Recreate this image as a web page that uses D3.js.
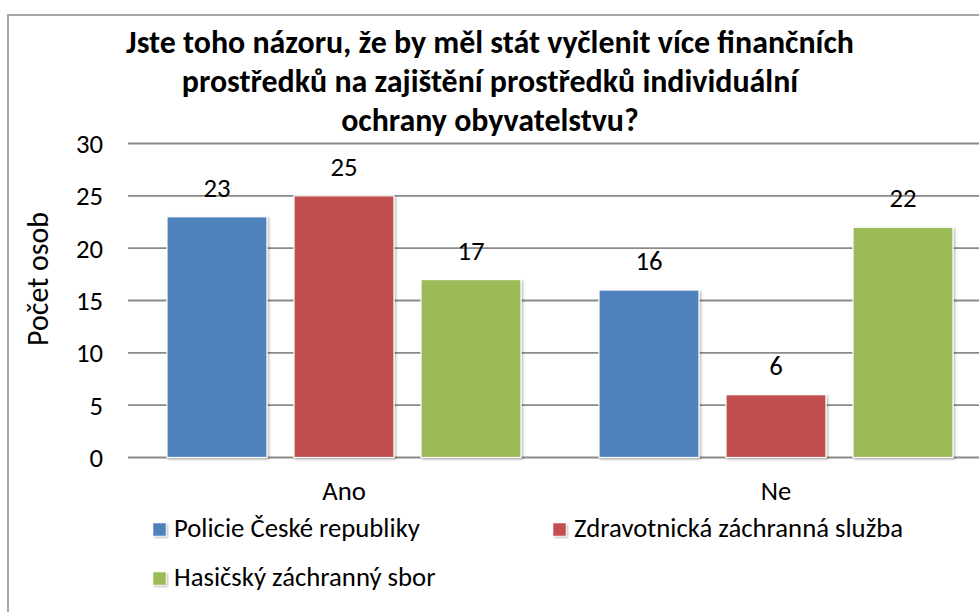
<!DOCTYPE html>
<html>
<head>
<meta charset="utf-8">
<script src="https://cdn.jsdelivr.net/npm/d3@7/dist/d3.min.js"></script>
<style>
html,body{margin:0;padding:0;background:#fff;}
svg{display:block;}
text{font-family:Carlito, Lato, "Open Sans", sans-serif;fill:#000;}
</style>
</head>
<body>
<svg id="chart" width="979" height="612"></svg>
<script>
const titleLines = ["Jste toho názoru, že by měl stát vyčlenit více finančních",
                    "prostředků na zajištění prostředků individuální",
                    "ochrany obyvatelstvu?"];
const categories = ["Ano", "Ne"];
const seriesNames = ["Policie České republiky", "Zdravotnická záchranná služba", "Hasičský záchranný sbor"];
const seriesColors = ["#4F81BD", "#C0504D", "#9BBB59"];
const policie = [23, 16];
const zachranna = [25, 6];
const hasici = [17, 22];
const yTicks = [0, 5, 10, 15, 20, 25, 30];
const yAxisTitle = "Počet osob";

const seriesValues = [policie, zachranna, hasici];
const svg = d3.select("#chart");

// shadow filter
const defs = svg.append("defs");
const f = defs.append("filter").attr("id","sh").attr("x","-10%").attr("y","-10%").attr("width","130%").attr("height","130%");
f.append("feDropShadow").attr("dx",1.5).attr("dy",1.5).attr("stdDeviation",1.2)
  .attr("flood-color","#000").attr("flood-opacity",0.28);

// chart border
svg.append("rect").attr("x",8).attr("y",15).attr("width",1100).attr("height",700)
  .attr("fill","#fff").attr("stroke","#a6a6a6").attr("stroke-width",2);

// measuring helper: size so that text reaches target width
function fitSize(str, target, weight){
  const t = svg.append("text").attr("font-size",100).attr("font-weight",weight||"normal").text(str);
  const w = t.node().getComputedTextLength();
  t.remove();
  return 100*target/w;
}
const bodySize = Math.min(28, fitSize("Policie České republiky", 246));
const titleSize = Math.min(34, fitSize(titleLines[0], 728, "bold"));

const y = d3.scaleLinear().domain([0,30]).range([457.5,143.5]);
const x0 = d3.scaleBand().domain(categories).range([128, 992]).padding(0);
const x1 = d3.scaleBand().domain(seriesNames).range([39, 393]).paddingInner(27/127).paddingOuter(0);

// gridlines
const grid = svg.append("g");
grid.selectAll("line").data(yTicks).join("line")
  .attr("x1",128).attr("x2",992)
  .attr("y1",d=>y(d)).attr("y2",d=>y(d))
  .attr("stroke","#8a8a8a").attr("stroke-width",1.8);

// y axis labels
const yAxis = d3.axisLeft(y).tickValues(yTicks).tickSize(0).tickPadding(0);
const gy = svg.append("g").attr("transform","translate(103,0)").call(yAxis);
gy.select(".domain").remove();
gy.selectAll("text").attr("font-size",bodySize).attr("fill","#000")
  .style("font-family","Carlito, Lato, 'Open Sans', sans-serif").attr("dy","0.34em");

// bars
const groups = svg.append("g").selectAll("g").data(categories).join("g")
  .attr("transform",c=>`translate(${x0(c)},0)`);
groups.each(function(c, ci){
  const g = d3.select(this);
  const data = seriesNames.map((s,si)=>({s, si, v: seriesValues[si][ci]}));
  g.selectAll("rect").data(data).join("rect")
    .attr("x",d=>x1(d.s)).attr("width",x1.bandwidth())
    .attr("y",d=>y(d.v)).attr("height",d=>y(0)-y(d.v))
    .attr("fill",d=>seriesColors[d.si])
    .attr("stroke","#fff").attr("stroke-width",1.2)
    .attr("filter","url(#sh)");
  g.selectAll("text.lbl").data(data).join("text").attr("class","lbl")
    .attr("x",d=>x1(d.s)+x1.bandwidth()/2).attr("y",d=>y(d.v)-20)
    .attr("text-anchor","middle").attr("font-size",bodySize).text(d=>d.v);
});

// category labels
const xAxis = d3.axisBottom(x0).tickSize(0).tickPadding(0);
const gx = svg.append("g").attr("transform","translate(0,500)").call(xAxis);
gx.select(".domain").remove();
gx.selectAll("text").attr("font-size",bodySize).attr("fill","#000").attr("dy",0)
  .style("font-family","Carlito, Lato, 'Open Sans', sans-serif");

// y axis title
svg.append("text").attr("transform","translate(48,279) rotate(-90)")
  .attr("text-anchor","middle").attr("font-size",bodySize*1.12).text(yAxisTitle);

// title
const titleBase = [53, 92, 131];
svg.append("g").selectAll("text").data(titleLines).join("text")
  .attr("x",490).attr("y",(d,i)=>titleBase[i])
  .attr("text-anchor","middle").attr("font-weight","bold").attr("font-size",titleSize)
  .text(d=>d);

// legend
const legendPos = [[153,537],[553,537],[153,586]];
const lg = svg.append("g").selectAll("g").data(seriesNames).join("g")
  .attr("transform",(d,i)=>`translate(${legendPos[i][0]},${legendPos[i][1]})`);
lg.append("rect").attr("x",0).attr("y",-14).attr("width",13).attr("height",13)
  .attr("fill",(d,i)=>seriesColors[i]).attr("stroke","#fff").attr("stroke-width",0.5)
  .attr("filter","url(#sh)");
lg.append("text").attr("x",21).attr("y",0).attr("font-size",bodySize).text(d=>d);
</script>
</body>
</html>
